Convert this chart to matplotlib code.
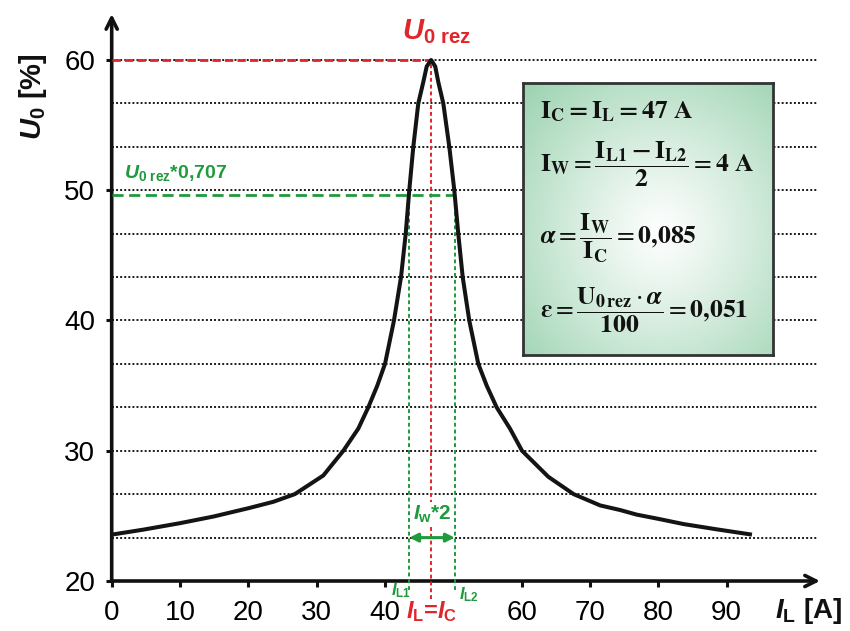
import matplotlib
matplotlib.use('Agg')
import matplotlib.pyplot as plt
import numpy as np

plt.rcParams['font.family'] = ['Liberation Sans', 'DejaVu Sans']
plt.rcParams['mathtext.fontset'] = 'custom'
plt.rcParams['mathtext.rm'] = 'Liberation Sans:bold'
plt.rcParams['mathtext.bf'] = 'Liberation Sans:bold'
plt.rcParams['mathtext.it'] = 'Liberation Sans:italic:bold'

# resonance curve
I_L = [0, 4.6, 10, 14.9, 20.1, 23.65, 26.8, 30.97, 33.9, 36.09, 37.55, 38.87, 40.0,
       41.31, 42.34, 43.03, 43.55, 44.14, 44.87, 45.6, 46.1, 46.75, 47.35, 47.8, 48.53,
       49.41, 50.14, 50.72, 51.37, 52.33, 53.65, 54.88, 56.34, 58.29, 60.05, 63.9,
       67.6, 71.5, 74.4, 76.8, 80.2, 83.7, 88.5, 93.7]
U_0 = [23.56, 23.94, 24.44, 24.95, 25.6, 26.08, 26.67, 28.1, 30, 31.7, 33.33, 35, 36.67,
       40, 43.33, 46.67, 50, 53.33, 56.67, 58.3, 59.5, 60, 59.5, 58.3, 56.67,
       53.33, 50, 46.67, 43.33, 40, 36.67, 35, 33.33, 31.7, 30, 28.0,
       26.67, 25.8, 25.45, 25.1, 24.75, 24.37, 23.97, 23.56]

I_rez = 46.8
U_rez = 60
U_half = 49.6
I_L1 = 43.55
I_L2 = 50.2

x_ticks = [0, 10, 20, 30, 40, 60, 70, 80, 90]
y_ticks = [20, 30, 40, 50, 60]

red = '#e0262b'
green = '#1f9a3c'

fig = plt.figure(figsize=(8.5, 6.31), dpi=100)
ax = fig.add_axes([111.7/850, 50/631, (820-111.7)/850, 567/631])
ax.set_xlim(0, 103.66)
ax.set_ylim(20, 63.53)
for s in ax.spines.values():
    s.set_visible(False)

# dotted grid
for k in range(1, 13):
    yv = 20 + k*10/3
    ax.plot([0, 103.3], [yv, yv], color='#1a1a1a', lw=1.4, ls=(0, (1, 1.1)), zorder=1)

# axes with arrows
ax.annotate('', xy=(103.66, 20), xytext=(0, 20), annotation_clip=False,
            arrowprops=dict(arrowstyle='->,head_length=0.8,head_width=0.4', lw=2.6, color='#111111',
                            shrinkA=0, shrinkB=0))
ax.annotate('', xy=(0, 63.53), xytext=(0, 20), annotation_clip=False,
            arrowprops=dict(arrowstyle='->,head_length=0.8,head_width=0.4', lw=2.6, color='#111111',
                            shrinkA=0, shrinkB=0))

ax.set_xticks(x_ticks)
ax.set_xticklabels([str(v) for v in x_ticks])
ax.set_yticks(y_ticks)
ax.set_yticklabels([str(v) for v in y_ticks])
ax.tick_params(axis='x', direction='out', length=4, width=2.2, pad=10, labelsize=20,
               color='#111111')
ax.tick_params(axis='y', direction='out', length=4, width=2.2, pad=8, labelsize=20,
               color='#111111')

# red markers of resonance
ax.plot([0, I_rez], [U_rez, U_rez], color=red, lw=2.0, ls=(0, (3, 1.5)), zorder=3)
ax.plot([I_rez, I_rez], [18.6, U_rez], color=red, lw=1.4, ls=(0, (2, 1.5)), zorder=3,
        clip_on=False)

# green half-power markers
ax.plot([0, I_L2], [U_half, U_half], color=green, lw=2.0, ls=(0, (4, 2)), zorder=3)
for xv in (I_L1, I_L2):
    ax.plot([xv, xv], [19.3, U_half], color=green, lw=1.4, ls=(0, (2, 1.5)), zorder=3,
            clip_on=False)

# curve
ax.plot(I_L, U_0, color='#141414', lw=2.9, solid_joinstyle='round', solid_capstyle='butt',
        zorder=4)

# Iw*2 label and arrow
ax.text((I_L1 + I_L2)/2, 24.3, r'$I_{\mathrm{w}}$*2', color=green, fontsize=15,
        fontweight='bold', ha='center', va='bottom', zorder=5,
        bbox=dict(facecolor='white', edgecolor='none', pad=1))
ax.annotate('', xy=(I_L1, 23.33), xytext=(I_L2, 23.33),
            arrowprops=dict(arrowstyle='<|-|>,head_length=0.5,head_width=0.25', lw=2.2,
                            color=green, shrinkA=0, shrinkB=0), zorder=6)

# texts
fig.text(437/850, 1-32/631, r'$U_{\mathrm{0\ rez}}$', color=red, fontsize=21,
         ha='center', va='center')
fig.text(124/850, 1-173/631, r'$U_{\mathrm{0\ rez}}$*0,707', color=green, fontsize=14,
         fontweight='bold', ha='left', va='center')
fig.text(432/850, 1-612/631, r'$I_{\mathrm{L}}$=$I_{\mathrm{C}}$', color=red, fontsize=17,
         fontweight='bold', ha='center', va='center')
fig.text(411/850, 1-591/631, r'$I_{\mathrm{L1}}$', color=green, fontsize=12,
         ha='right', va='center')
fig.text(459/850, 1-595/631, r'$I_{\mathrm{L2}}$', color=green, fontsize=12,
         ha='left', va='center')
fig.text(775/850, 1-611/631, r'$I_{\mathrm{L}}$ [A]', color='#111111', fontsize=20,
         fontweight='bold', ha='left', va='center')
fig.text(33/850, 1-97/631, r'$U_{\mathrm{0}}$ [%]', color='#111111', fontsize=21,
         fontweight='bold', ha='center', va='center', rotation=90)

# formula box with a radial green gradient
bax = fig.add_axes([523/850, 1-355/631, 250/850, 272/631], zorder=5)
gx, gy = np.meshgrid(np.linspace(0, 1, 200), np.linspace(0, 1, 200))
r = np.sqrt(((gx-0.55)/0.75)**2 + ((gy-0.45)/0.75)**2)
t = np.clip(r, 0, 1)**1.1
edge = np.array([0.62, 0.83, 0.70])
img = (1-t)[..., None]*np.array([1.0, 1.0, 1.0]) + t[..., None]*edge
bax.imshow(img, extent=[0, 1, 0, 1], origin='lower', aspect='auto')
bax.set_xlim(0, 1)
bax.set_ylim(0, 1)
bax.set_xticks([])
bax.set_yticks([])
for s in bax.spines.values():
    s.set_color('#333333')
    s.set_linewidth(2)

kw = dict(math_fontfamily='stix', fontsize=18.5, color='#111111', ha='left', va='center')
bax.text(0.07, 0.895, r'$\mathbf{I_C = I_L = 47\ A}$', **kw)
bax.text(0.07, 0.70, r'$\mathbf{I_W} = \dfrac{\mathbf{I_{L1} - I_{L2}}}{\mathbf{2}} = \mathbf{4\ A}$', **kw)
bax.text(0.07, 0.43, r'$\boldsymbol{\alpha} = \dfrac{\mathbf{I_W}}{\mathbf{I_C}} = \mathbf{0{,}085}$', **kw)
bax.text(0.07, 0.165, r'$\boldsymbol{\varepsilon} = \dfrac{\mathbf{U_{0\,rez}} \cdot \boldsymbol{\alpha}}{\mathbf{100}} = \mathbf{0{,}051}$', **kw)

fig.savefig('out.png', dpi=100)
